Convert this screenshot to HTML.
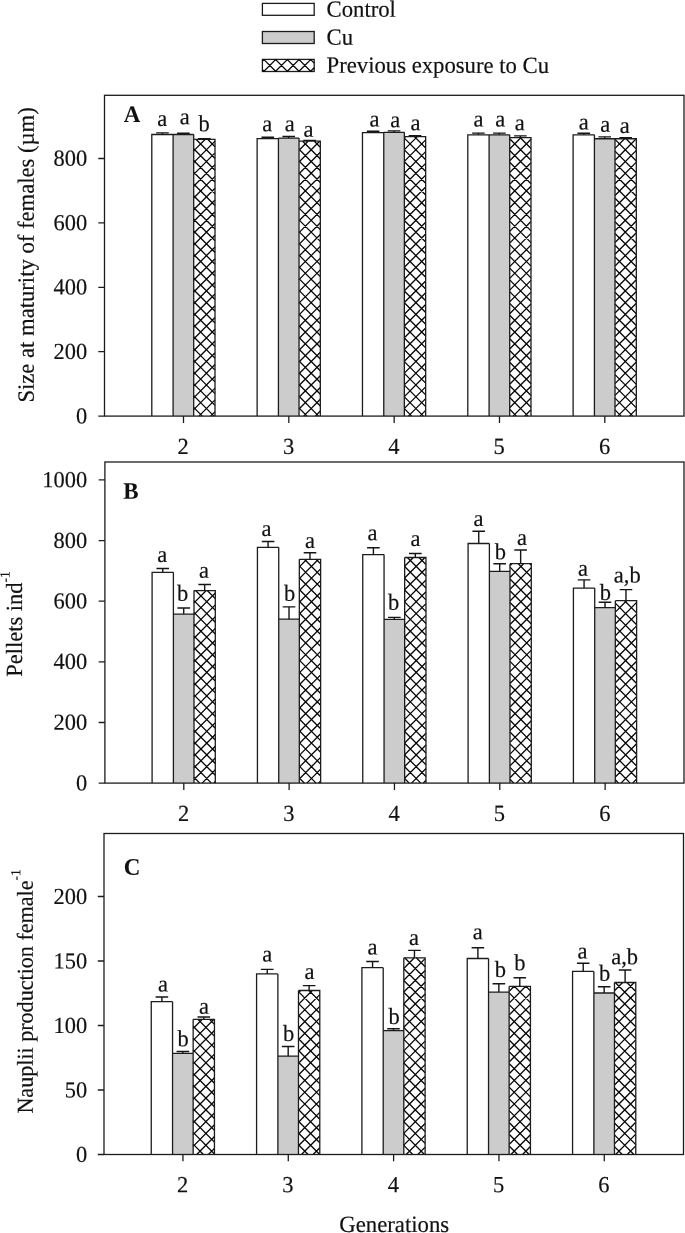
<!DOCTYPE html>
<html><head><meta charset="utf-8"><title>Figure</title>
<style>
html,body{margin:0;padding:0;background:#fff;}
body{width:685px;height:1233px;overflow:hidden;font-family:"Liberation Serif",serif;}
svg{display:block;will-change:transform;}
text{font-family:"Liberation Serif",serif;font-size:22.5px;fill:#111;stroke:#111;stroke-width:0.18px;}
.ax{stroke:#1c1c1c;stroke-width:1.3;fill:none;}
.bar{stroke:#1c1c1c;stroke-width:1.3;}
.ht{stroke:#050505;stroke-width:1.3;fill:none;}
.eb{stroke:#151515;stroke-width:1.4;fill:none;}
.b{font-weight:bold;font-size:23px;stroke-width:0.05px;}
.sup{font-size:13.4px;}
</style></head><body>
<svg width="685" height="1233" viewBox="0 0 685 1233">
<rect x="0" y="0" width="685" height="1233" fill="#fff"/>
<rect class="bar" x="262.4" y="3.4" width="51.8" height="11.9" fill="#fff"/>
<text transform="translate(326.6 16.8) rotate(0.03) scale(1 1.03)" style="font-size:22.7px">Control</text>
<rect class="bar" x="262.4" y="31.5" width="51.8" height="12" fill="#cccccc"/>
<text transform="translate(326.6 44.8) rotate(0.03) scale(1 1.03)" style="font-size:22.7px">Cu</text>
<rect class="bar" x="262.4" y="59.4" width="51.8" height="12.1" fill="#fff"/>
<path class="ht" d="M262.4 69.73L264.17 71.5M262.4 61.17L264.17 59.4M263.75 59.4L275.85 71.5M263.75 71.5L275.85 59.4M275.43 59.4L287.53 71.5M275.43 71.5L287.53 59.4M287.11 59.4L299.21 71.5M287.11 71.5L299.21 59.4M298.79 59.4L310.89 71.5M298.79 71.5L310.89 59.4M310.47 59.4L314.2 63.13M310.47 71.5L314.2 67.77"/>
<text transform="translate(326.6 72.8) rotate(0.03) scale(1 1.03)" style="font-size:22.7px">Previous exposure to Cu</text>
<rect x="173.1" y="134.5" width="20.6" height="281.6" fill="#cccccc"/>
<rect x="193.7" y="139.45" width="21.3" height="276.65" fill="#fff"/>
<path class="ht" d="M193.7 407.39L202.32 416.1M193.7 395.63L213.96 416.1M193.7 383.87L215 405.39M193.7 372.11L215 393.63M193.7 360.35L215 381.87M193.7 348.59L215 370.11M193.7 336.83L215 358.35M193.7 325.07L215 346.59M193.7 313.31L215 334.83M193.7 301.55L215 323.07M193.7 289.79L215 311.31M193.7 278.03L215 299.55M193.7 266.27L215 287.79M193.7 254.51L215 276.03M193.7 242.75L215 264.27M193.7 230.99L215 252.51M193.7 219.23L215 240.75M193.7 207.47L215 228.99M193.7 195.71L215 217.23M193.7 183.95L215 205.47M193.7 172.19L215 193.71M193.7 160.43L215 181.95M193.7 148.67L215 170.19M196.22 139.45L215 158.43M207.85 139.45L215 146.67M193.7 150.89L205.02 139.45M193.7 162.65L215 141.13M193.7 174.41L215 152.89M193.7 186.17L215 164.65M193.7 197.93L215 176.41M193.7 209.69L215 188.17M193.7 221.45L215 199.93M193.7 233.21L215 211.69M193.7 244.97L215 223.45M193.7 256.73L215 235.21M193.7 268.49L215 246.97M193.7 280.25L215 258.73M193.7 292.01L215 270.49M193.7 303.77L215 282.25M193.7 315.53L215 294.01M193.7 327.29L215 305.77M193.7 339.05L215 317.53M193.7 350.81L215 329.29M193.7 362.57L215 341.05M193.7 374.33L215 352.81M193.7 386.09L215 364.57M193.7 397.85L215 376.33M193.7 409.61L215 388.09M198.92 416.1L215 399.85M210.55 416.1L215 411.61"/>
<path class="ax" d="M151.8 416.1V134.5H173.1M173.1 416.1V134.5M173.1 134.5H193.7M193.7 416.1V134.5M193.7 139.45H215V416.1"/>
<path class="eb" d="M162.45 134.5V132.9M156.15 132.9H168.75"/>
<text transform="translate(162.2 126) rotate(0.03) scale(1 1.03)" text-anchor="middle">a</text>
<path class="eb" d="M183.4 134.5V133.3M177.1 133.3H189.7"/>
<text transform="translate(184.7 124.3) rotate(0.03) scale(1 1.03)" text-anchor="middle">a</text>
<path class="eb" d="M204.35 139.45V138.65M198.05 138.65H210.65"/>
<text transform="translate(204.2 131.3) rotate(0.03) scale(1 1.03)" text-anchor="middle">b</text>
<rect x="278.43" y="138.1" width="20.6" height="278" fill="#cccccc"/>
<rect x="299.03" y="141.2" width="21.3" height="274.9" fill="#fff"/>
<path class="ht" d="M299.03 408.01L307.04 416.1M299.03 396.25L318.67 416.1M299.03 384.49L320.33 406.02M299.03 372.73L320.33 394.26M299.03 360.97L320.33 382.5M299.03 349.21L320.33 370.74M299.03 337.45L320.33 358.98M299.03 325.69L320.33 347.22M299.03 313.93L320.33 335.46M299.03 302.17L320.33 323.7M299.03 290.41L320.33 311.94M299.03 278.65L320.33 300.18M299.03 266.89L320.33 288.42M299.03 255.13L320.33 276.66M299.03 243.37L320.33 264.9M299.03 231.61L320.33 253.14M299.03 219.85L320.33 241.38M299.03 208.09L320.33 229.62M299.03 196.33L320.33 217.86M299.03 184.57L320.33 206.1M299.03 172.81L320.33 194.34M299.03 161.05L320.33 182.58M299.03 149.29L320.33 170.82M302.66 141.2L320.33 159.06M314.3 141.2L320.33 147.3M299.03 150.27L308.01 141.2M299.03 162.03L319.64 141.2M299.03 173.79L320.33 152.26M299.03 185.55L320.33 164.02M299.03 197.31L320.33 175.78M299.03 209.07L320.33 187.54M299.03 220.83L320.33 199.3M299.03 232.59L320.33 211.06M299.03 244.35L320.33 222.82M299.03 256.11L320.33 234.58M299.03 267.87L320.33 246.34M299.03 279.63L320.33 258.1M299.03 291.39L320.33 269.86M299.03 303.15L320.33 281.62M299.03 314.91L320.33 293.38M299.03 326.67L320.33 305.14M299.03 338.43L320.33 316.9M299.03 350.19L320.33 328.66M299.03 361.95L320.33 340.42M299.03 373.71L320.33 352.18M299.03 385.47L320.33 363.94M299.03 397.23L320.33 375.7M299.03 408.99L320.33 387.46M303.63 416.1L320.33 399.22M315.27 416.1L320.33 410.98"/>
<path class="ax" d="M257.13 416.1V138.55H278.43M278.43 416.1V138.1M278.43 138.1H299.03M299.03 416.1V138.1M299.03 141.2H320.33V416.1"/>
<path class="eb" d="M267.78 138.55V137.25M261.48 137.25H274.08"/>
<text transform="translate(267.3 131.3) rotate(0.03) scale(1 1.03)" text-anchor="middle">a</text>
<path class="eb" d="M288.73 138.1V136.5M282.43 136.5H295.03"/>
<text transform="translate(289.7 131.3) rotate(0.03) scale(1 1.03)" text-anchor="middle">a</text>
<path class="eb" d="M309.68 141.2V140.4M303.38 140.4H315.98"/>
<text transform="translate(308.6 136.8) rotate(0.03) scale(1 1.03)" text-anchor="middle">a</text>
<rect x="383.76" y="132.3" width="20.6" height="283.8" fill="#cccccc"/>
<rect x="404.36" y="136.6" width="21.3" height="279.5" fill="#fff"/>
<path class="ht" d="M404.36 408.63L411.75 416.1M404.36 396.87L423.39 416.1M404.36 385.11L425.66 406.64M404.36 373.35L425.66 394.88M404.36 361.59L425.66 383.12M404.36 349.83L425.66 371.36M404.36 338.07L425.66 359.6M404.36 326.31L425.66 347.84M404.36 314.55L425.66 336.08M404.36 302.79L425.66 324.32M404.36 291.03L425.66 312.56M404.36 279.27L425.66 300.8M404.36 267.51L425.66 289.04M404.36 255.75L425.66 277.28M404.36 243.99L425.66 265.52M404.36 232.23L425.66 253.76M404.36 220.47L425.66 242M404.36 208.71L425.66 230.24M404.36 196.95L425.66 218.48M404.36 185.19L425.66 206.72M404.36 173.43L425.66 194.96M404.36 161.67L425.66 183.2M404.36 149.91L425.66 171.44M404.36 138.15L425.66 159.68M414.46 136.6L425.66 147.92M404.36 137.89L405.64 136.6M404.36 149.65L417.27 136.6M404.36 161.41L425.66 139.88M404.36 173.17L425.66 151.64M404.36 184.93L425.66 163.4M404.36 196.69L425.66 175.16M404.36 208.45L425.66 186.92M404.36 220.21L425.66 198.68M404.36 231.97L425.66 210.44M404.36 243.73L425.66 222.2M404.36 255.49L425.66 233.96M404.36 267.25L425.66 245.72M404.36 279.01L425.66 257.48M404.36 290.77L425.66 269.24M404.36 302.53L425.66 281M404.36 314.29L425.66 292.76M404.36 326.05L425.66 304.52M404.36 337.81L425.66 316.28M404.36 349.57L425.66 328.04M404.36 361.33L425.66 339.8M404.36 373.09L425.66 351.56M404.36 384.85L425.66 363.32M404.36 396.61L425.66 375.08M404.36 408.37L425.66 386.84M408.35 416.1L425.66 398.6M419.98 416.1L425.66 410.36"/>
<path class="ax" d="M362.46 416.1V132.65H383.76M383.76 416.1V132.3M383.76 132.3H404.36M404.36 416.1V132.3M404.36 136.6H425.66V416.1"/>
<path class="eb" d="M373.11 132.65V131.25M366.81 131.25H379.41"/>
<text transform="translate(374.6 126.5) rotate(0.03) scale(1 1.03)" text-anchor="middle">a</text>
<path class="eb" d="M394.06 132.3V130.9M387.76 130.9H400.36"/>
<text transform="translate(395.3 127.2) rotate(0.03) scale(1 1.03)" text-anchor="middle">a</text>
<path class="eb" d="M415.01 136.6V135.7M408.71 135.7H421.31"/>
<text transform="translate(415.5 130.3) rotate(0.03) scale(1 1.03)" text-anchor="middle">a</text>
<rect x="489.09" y="134.85" width="20.6" height="281.25" fill="#cccccc"/>
<rect x="509.69" y="137.55" width="21.3" height="278.55" fill="#fff"/>
<path class="ht" d="M509.69 409.25L516.47 416.1M509.69 397.49L528.1 416.1M509.69 385.73L530.99 407.26M509.69 373.97L530.99 395.5M509.69 362.21L530.99 383.74M509.69 350.45L530.99 371.98M509.69 338.69L530.99 360.22M509.69 326.93L530.99 348.46M509.69 315.17L530.99 336.7M509.69 303.41L530.99 324.94M509.69 291.65L530.99 313.18M509.69 279.89L530.99 301.42M509.69 268.13L530.99 289.66M509.69 256.37L530.99 277.9M509.69 244.61L530.99 266.14M509.69 232.85L530.99 254.38M509.69 221.09L530.99 242.62M509.69 209.33L530.99 230.86M509.69 197.57L530.99 219.1M509.69 185.81L530.99 207.34M509.69 174.05L530.99 195.58M509.69 162.29L530.99 183.82M509.69 150.53L530.99 172.06M509.69 138.77L530.99 160.3M520.12 137.55L530.99 148.54M509.69 149.03L521.05 137.55M509.69 160.79L530.99 139.26M509.69 172.55L530.99 151.02M509.69 184.31L530.99 162.78M509.69 196.07L530.99 174.54M509.69 207.83L530.99 186.3M509.69 219.59L530.99 198.06M509.69 231.35L530.99 209.82M509.69 243.11L530.99 221.58M509.69 254.87L530.99 233.34M509.69 266.63L530.99 245.1M509.69 278.39L530.99 256.86M509.69 290.15L530.99 268.62M509.69 301.91L530.99 280.38M509.69 313.67L530.99 292.14M509.69 325.43L530.99 303.9M509.69 337.19L530.99 315.66M509.69 348.95L530.99 327.42M509.69 360.71L530.99 339.18M509.69 372.47L530.99 350.94M509.69 384.23L530.99 362.7M509.69 395.99L530.99 374.46M509.69 407.75L530.99 386.22M513.06 416.1L530.99 397.98M524.7 416.1L530.99 409.74"/>
<path class="ax" d="M467.79 416.1V134.85H489.09M489.09 416.1V134.85M489.09 134.85H509.69M509.69 416.1V134.85M509.69 137.55H530.99V416.1"/>
<path class="eb" d="M478.44 134.85V133.1M472.14 133.1H484.74"/>
<text transform="translate(478.5 126.6) rotate(0.03) scale(1 1.03)" text-anchor="middle">a</text>
<path class="eb" d="M499.39 134.85V133.1M493.09 133.1H505.69"/>
<text transform="translate(500.3 126.6) rotate(0.03) scale(1 1.03)" text-anchor="middle">a</text>
<path class="eb" d="M520.34 137.55V135.9M514.04 135.9H526.64"/>
<text transform="translate(519.8 130.3) rotate(0.03) scale(1 1.03)" text-anchor="middle">a</text>
<rect x="594.42" y="138.75" width="20.6" height="277.35" fill="#cccccc"/>
<rect x="615.02" y="138.75" width="21.3" height="277.35" fill="#fff"/>
<path class="ht" d="M615.02 409.87L621.18 416.1M615.02 398.11L632.82 416.1M615.02 386.35L636.32 407.88M615.02 374.59L636.32 396.12M615.02 362.83L636.32 384.36M615.02 351.07L636.32 372.6M615.02 339.31L636.32 360.84M615.02 327.55L636.32 349.08M615.02 315.79L636.32 337.32M615.02 304.03L636.32 325.56M615.02 292.27L636.32 313.8M615.02 280.51L636.32 302.04M615.02 268.75L636.32 290.28M615.02 256.99L636.32 278.52M615.02 245.23L636.32 266.76M615.02 233.47L636.32 255M615.02 221.71L636.32 243.24M615.02 209.95L636.32 231.48M615.02 198.19L636.32 219.72M615.02 186.43L636.32 207.96M615.02 174.67L636.32 196.2M615.02 162.91L636.32 184.44M615.02 151.15L636.32 172.68M615.02 139.39L636.32 160.92M626.02 138.75L636.32 149.16M615.02 148.41L624.58 138.75M615.02 160.17L636.21 138.75M615.02 171.93L636.32 150.4M615.02 183.69L636.32 162.16M615.02 195.45L636.32 173.92M615.02 207.21L636.32 185.68M615.02 218.97L636.32 197.44M615.02 230.73L636.32 209.2M615.02 242.49L636.32 220.96M615.02 254.25L636.32 232.72M615.02 266.01L636.32 244.48M615.02 277.77L636.32 256.24M615.02 289.53L636.32 268M615.02 301.29L636.32 279.76M615.02 313.05L636.32 291.52M615.02 324.81L636.32 303.28M615.02 336.57L636.32 315.04M615.02 348.33L636.32 326.8M615.02 360.09L636.32 338.56M615.02 371.85L636.32 350.32M615.02 383.61L636.32 362.08M615.02 395.37L636.32 373.84M615.02 407.13L636.32 385.6M617.78 416.1L636.32 397.36M629.41 416.1L636.32 409.12"/>
<path class="ax" d="M573.12 416.1V134.8H594.42M594.42 416.1V134.8M594.42 138.75H615.02M615.02 416.1V138.75M615.02 138.75H636.32V416.1"/>
<path class="eb" d="M583.77 134.8V133.3M577.47 133.3H590.07"/>
<text transform="translate(583.7 129.4) rotate(0.03) scale(1 1.03)" text-anchor="middle">a</text>
<path class="eb" d="M604.72 138.75V136.85M598.42 136.85H611.02"/>
<text transform="translate(605.3 131.7) rotate(0.03) scale(1 1.03)" text-anchor="middle">a</text>
<path class="eb" d="M625.67 138.75V137.7M619.37 137.7H631.97"/>
<text transform="translate(624.8 133) rotate(0.03) scale(1 1.03)" text-anchor="middle">a</text>
<rect class="ax" x="104.5" y="95.3" width="579.5" height="320.8"/>
<text transform="translate(87.1 423.4) rotate(0.03) scale(1 1.03)" text-anchor="end" style="font-size:22.4px">0</text>
<text transform="translate(87.1 359) rotate(0.03) scale(1 1.03)" text-anchor="end" style="font-size:22.4px">200</text>
<text transform="translate(87.1 294.6) rotate(0.03) scale(1 1.03)" text-anchor="end" style="font-size:22.4px">400</text>
<text transform="translate(87.1 230.2) rotate(0.03) scale(1 1.03)" text-anchor="end" style="font-size:22.4px">600</text>
<text transform="translate(87.1 165.8) rotate(0.03) scale(1 1.03)" text-anchor="end" style="font-size:22.4px">800</text>
<text transform="translate(183.2 453.9) rotate(0.03) scale(1 1.03)" text-anchor="middle">2</text>
<text transform="translate(288.53 453.9) rotate(0.03) scale(1 1.03)" text-anchor="middle">3</text>
<text transform="translate(393.86 453.9) rotate(0.03) scale(1 1.03)" text-anchor="middle">4</text>
<text transform="translate(499.19 453.9) rotate(0.03) scale(1 1.03)" text-anchor="middle">5</text>
<text transform="translate(604.52 453.9) rotate(0.03) scale(1 1.03)" text-anchor="middle">6</text>
<path class="ax" d="M98.3 416.1L104.5 416.1M98.3 351.7L104.5 351.7M98.3 287.3L104.5 287.3M98.3 222.9L104.5 222.9M98.3 158.5L104.5 158.5M183.5 416.1L183.5 422.9M288.83 416.1L288.83 422.9M394.16 416.1L394.16 422.9M499.49 416.1L499.49 422.9M604.82 416.1L604.82 422.9"/>
<text transform="translate(123.8 122.1) rotate(0.03) scale(1 1.03)" class="b">A</text>
<text transform="translate(33.7 402.6) rotate(-89.97) scale(1 1.03)" style="font-size:22.65px">Size at maturity of females (µm)</text>
<rect x="173.4" y="614.1" width="20.6" height="169" fill="#cccccc"/>
<rect x="194" y="590.7" width="21.3" height="192.4" fill="#fff"/>
<path class="ht" d="M194 777.31L199.72 783.1M194 765.53L211.35 783.1M194 753.75L215.3 775.32M194 741.97L215.3 763.54M194 730.19L215.3 751.76M194 718.41L215.3 739.98M194 706.63L215.3 728.2M194 694.85L215.3 716.42M194 683.07L215.3 704.64M194 671.29L215.3 692.86M194 659.51L215.3 681.08M194 647.73L215.3 669.3M194 635.95L215.3 657.52M194 624.17L215.3 645.74M194 612.39L215.3 633.96M194 600.61L215.3 622.18M195.84 590.7L215.3 610.4M207.48 590.7L215.3 598.62M194 591.07L194.36 590.7M194 602.85L206 590.7M194 614.63L215.3 593.06M194 626.41L215.3 604.84M194 638.19L215.3 616.62M194 649.97L215.3 628.4M194 661.75L215.3 640.18M194 673.53L215.3 651.96M194 685.31L215.3 663.74M194 697.09L215.3 675.52M194 708.87L215.3 687.3M194 720.65L215.3 699.08M194 732.43L215.3 710.86M194 744.21L215.3 722.64M194 755.99L215.3 734.42M194 767.77L215.3 746.2M194 779.55L215.3 757.98M202.12 783.1L215.3 769.76M213.76 783.1L215.3 781.54"/>
<path class="ax" d="M152.1 783.1V572.3H173.4M173.4 783.1V572.3M173.4 614.1H194M194 783.1V590.7M194 590.7H215.3V783.1"/>
<path class="eb" d="M162.75 572.3V568.5M156.45 568.5H169.05"/>
<text transform="translate(162.3 562.1) rotate(0.03) scale(1 1.03)" text-anchor="middle">a</text>
<path class="eb" d="M183.7 614.1V608M177.4 608H190"/>
<text transform="translate(182.6 600.7) rotate(0.03) scale(1 1.03)" text-anchor="middle">b</text>
<path class="eb" d="M204.65 590.7V584.5M198.35 584.5H210.95"/>
<text transform="translate(204 577.7) rotate(0.03) scale(1 1.03)" text-anchor="middle">a</text>
<rect x="278.73" y="619.2" width="20.6" height="163.9" fill="#cccccc"/>
<rect x="299.33" y="559.3" width="21.3" height="223.8" fill="#fff"/>
<path class="ht" d="M299.33 777.94L304.43 783.1M299.33 766.16L316.07 783.1M299.33 754.38L320.63 775.94M299.33 742.6L320.63 764.16M299.33 730.82L320.63 752.38M299.33 719.04L320.63 740.6M299.33 707.26L320.63 728.82M299.33 695.48L320.63 717.04M299.33 683.7L320.63 705.26M299.33 671.92L320.63 693.48M299.33 660.14L320.63 681.7M299.33 648.36L320.63 669.92M299.33 636.58L320.63 658.14M299.33 624.8L320.63 646.36M299.33 613.02L320.63 634.58M299.33 601.24L320.63 622.8M299.33 589.46L320.63 611.02M299.33 577.68L320.63 599.24M299.33 565.9L320.63 587.46M304.45 559.3L320.63 575.68M316.08 559.3L320.63 563.9M299.33 566.88L306.82 559.3M299.33 578.66L318.46 559.3M299.33 590.44L320.63 568.88M299.33 602.22L320.63 580.66M299.33 614L320.63 592.44M299.33 625.78L320.63 604.22M299.33 637.56L320.63 616M299.33 649.34L320.63 627.78M299.33 661.12L320.63 639.56M299.33 672.9L320.63 651.34M299.33 684.68L320.63 663.12M299.33 696.46L320.63 674.9M299.33 708.24L320.63 686.68M299.33 720.02L320.63 698.46M299.33 731.8L320.63 710.24M299.33 743.58L320.63 722.02M299.33 755.36L320.63 733.8M299.33 767.14L320.63 745.58M299.33 778.92L320.63 757.36M306.84 783.1L320.63 769.14M318.47 783.1L320.63 780.92"/>
<path class="ax" d="M257.43 783.1V547.3H278.73M278.73 783.1V547.3M278.73 619.2H299.33M299.33 783.1V559.3M299.33 559.3H320.63V783.1"/>
<path class="eb" d="M268.08 547.3V541.5M261.78 541.5H274.38"/>
<text transform="translate(266.4 536) rotate(0.03) scale(1 1.03)" text-anchor="middle">a</text>
<path class="eb" d="M289.03 619.2V606.9M282.73 606.9H295.33"/>
<text transform="translate(289.7 600.7) rotate(0.03) scale(1 1.03)" text-anchor="middle">b</text>
<path class="eb" d="M309.98 559.3V552.8M303.68 552.8H316.28"/>
<text transform="translate(309.9 548.1) rotate(0.03) scale(1 1.03)" text-anchor="middle">a</text>
<rect x="384.06" y="619.4" width="20.6" height="163.7" fill="#cccccc"/>
<rect x="404.66" y="557.5" width="21.3" height="225.6" fill="#fff"/>
<path class="ht" d="M404.66 778.56L409.15 783.1M404.66 766.78L420.78 783.1M404.66 755L425.96 776.56M404.66 743.22L425.96 764.78M404.66 731.44L425.96 753M404.66 719.66L425.96 741.22M404.66 707.88L425.96 729.44M404.66 696.1L425.96 717.66M404.66 684.32L425.96 705.88M404.66 672.54L425.96 694.1M404.66 660.76L425.96 682.32M404.66 648.98L425.96 670.54M404.66 637.2L425.96 658.76M404.66 625.42L425.96 646.98M404.66 613.64L425.96 635.2M404.66 601.86L425.96 623.42M404.66 590.08L425.96 611.64M404.66 578.3L425.96 599.86M404.66 566.52L425.96 588.08M407.39 557.5L425.96 576.3M419.02 557.5L425.96 564.52M404.66 566.26L413.31 557.5M404.66 578.04L424.95 557.5M404.66 589.82L425.96 568.26M404.66 601.6L425.96 580.04M404.66 613.38L425.96 591.82M404.66 625.16L425.96 603.6M404.66 636.94L425.96 615.38M404.66 648.72L425.96 627.16M404.66 660.5L425.96 638.94M404.66 672.28L425.96 650.72M404.66 684.06L425.96 662.5M404.66 695.84L425.96 674.28M404.66 707.62L425.96 686.06M404.66 719.4L425.96 697.84M404.66 731.18L425.96 709.62M404.66 742.96L425.96 721.4M404.66 754.74L425.96 733.18M404.66 766.52L425.96 744.96M404.66 778.3L425.96 756.74M411.55 783.1L425.96 768.52M423.19 783.1L425.96 780.3"/>
<path class="ax" d="M362.76 783.1V554.6H384.06M384.06 783.1V554.6M384.06 619.4H404.66M404.66 783.1V557.5M404.66 557.5H425.96V783.1"/>
<path class="eb" d="M373.41 554.6V547.7M367.11 547.7H379.71"/>
<text transform="translate(372.5 540.3) rotate(0.03) scale(1 1.03)" text-anchor="middle">a</text>
<path class="eb" d="M394.36 619.4V617.4M388.06 617.4H400.66"/>
<text transform="translate(393.6 609.8) rotate(0.03) scale(1 1.03)" text-anchor="middle">b</text>
<path class="eb" d="M415.31 557.5V553.5M409.01 553.5H421.61"/>
<text transform="translate(415.5 546.1) rotate(0.03) scale(1 1.03)" text-anchor="middle">a</text>
<rect x="489.39" y="571.3" width="20.6" height="211.8" fill="#cccccc"/>
<rect x="509.99" y="563.7" width="21.3" height="219.4" fill="#fff"/>
<path class="ht" d="M509.99 779.18L513.86 783.1M509.99 767.4L525.5 783.1M509.99 755.62L531.29 777.19M509.99 743.84L531.29 765.41M509.99 732.06L531.29 753.63M509.99 720.28L531.29 741.85M509.99 708.5L531.29 730.07M509.99 696.72L531.29 718.29M509.99 684.94L531.29 706.51M509.99 673.16L531.29 694.73M509.99 661.38L531.29 682.95M509.99 649.6L531.29 671.17M509.99 637.82L531.29 659.39M509.99 626.04L531.29 647.61M509.99 614.26L531.29 635.83M509.99 602.48L531.29 624.05M509.99 590.7L531.29 612.27M509.99 578.92L531.29 600.49M509.99 567.14L531.29 588.71M518.23 563.7L531.29 576.93M529.86 563.7L531.29 565.15M509.99 565.64L511.9 563.7M509.99 577.42L523.54 563.7M509.99 589.2L531.29 567.63M509.99 600.98L531.29 579.41M509.99 612.76L531.29 591.19M509.99 624.54L531.29 602.97M509.99 636.32L531.29 614.75M509.99 648.1L531.29 626.53M509.99 659.88L531.29 638.31M509.99 671.66L531.29 650.09M509.99 683.44L531.29 661.87M509.99 695.22L531.29 673.65M509.99 707L531.29 685.43M509.99 718.78L531.29 697.21M509.99 730.56L531.29 708.99M509.99 742.34L531.29 720.77M509.99 754.12L531.29 732.55M509.99 765.9L531.29 744.33M509.99 777.68L531.29 756.11M516.27 783.1L531.29 767.89M527.9 783.1L531.29 779.67"/>
<path class="ax" d="M468.09 783.1V543.5H489.39M489.39 783.1V543.5M489.39 571.3H509.99M509.99 783.1V563.7M509.99 563.7H531.29V783.1"/>
<path class="eb" d="M478.74 543.5V531.2M472.44 531.2H485.04"/>
<text transform="translate(478.5 525.9) rotate(0.03) scale(1 1.03)" text-anchor="middle">a</text>
<path class="eb" d="M499.69 571.3V563.7M493.39 563.7H505.99"/>
<text transform="translate(500.3 559.3) rotate(0.03) scale(1 1.03)" text-anchor="middle">b</text>
<path class="eb" d="M520.64 563.7V550M514.34 550H526.94"/>
<text transform="translate(521.9 545) rotate(0.03) scale(1 1.03)" text-anchor="middle">a</text>
<rect x="594.72" y="607.7" width="20.6" height="175.4" fill="#cccccc"/>
<rect x="615.32" y="600.7" width="21.3" height="182.4" fill="#fff"/>
<path class="ht" d="M615.32 779.8L618.58 783.1M615.32 768.02L630.21 783.1M615.32 756.24L636.62 777.81M615.32 744.46L636.62 766.03M615.32 732.68L636.62 754.25M615.32 720.9L636.62 742.47M615.32 709.12L636.62 730.69M615.32 697.34L636.62 718.91M615.32 685.56L636.62 707.13M615.32 673.78L636.62 695.35M615.32 662L636.62 683.57M615.32 650.22L636.62 671.79M615.32 638.44L636.62 660.01M615.32 626.66L636.62 648.23M615.32 614.88L636.62 636.45M615.32 603.1L636.62 624.67M624.58 600.7L636.62 612.89M636.22 600.7L636.62 601.11M615.32 612.14L626.61 600.7M615.32 623.92L636.62 602.35M615.32 635.7L636.62 614.13M615.32 647.48L636.62 625.91M615.32 659.26L636.62 637.69M615.32 671.04L636.62 649.47M615.32 682.82L636.62 661.25M615.32 694.6L636.62 673.03M615.32 706.38L636.62 684.81M615.32 718.16L636.62 696.59M615.32 729.94L636.62 708.37M615.32 741.72L636.62 720.15M615.32 753.5L636.62 731.93M615.32 765.28L636.62 743.71M615.32 777.06L636.62 755.49M620.98 783.1L636.62 767.27M632.62 783.1L636.62 779.05"/>
<path class="ax" d="M573.42 783.1V588.1H594.72M594.72 783.1V588.1M594.72 607.7H615.32M615.32 783.1V600.7M615.32 600.7H636.62V783.1"/>
<path class="eb" d="M584.07 588.1V579.9M577.77 579.9H590.37"/>
<text transform="translate(583.1 575.8) rotate(0.03) scale(1 1.03)" text-anchor="middle">a</text>
<path class="eb" d="M605.02 607.7V602.2M598.72 602.2H611.32"/>
<text transform="translate(605.3 599.9) rotate(0.03) scale(1 1.03)" text-anchor="middle">b</text>
<path class="eb" d="M625.97 600.7V589.6M619.67 589.6H632.27"/>
<text transform="translate(627.2 582.6) rotate(0.03) scale(1 1.03)" text-anchor="middle">a,b</text>
<rect class="ax" x="104.9" y="462" width="579.1" height="321.1"/>
<text transform="translate(87.1 790.4) rotate(0.03) scale(1 1.03)" text-anchor="end" style="font-size:22.4px">0</text>
<text transform="translate(87.1 729.8) rotate(0.03) scale(1 1.03)" text-anchor="end" style="font-size:22.4px">200</text>
<text transform="translate(87.1 669.1) rotate(0.03) scale(1 1.03)" text-anchor="end" style="font-size:22.4px">400</text>
<text transform="translate(87.1 608.5) rotate(0.03) scale(1 1.03)" text-anchor="end" style="font-size:22.4px">600</text>
<text transform="translate(87.1 547.9) rotate(0.03) scale(1 1.03)" text-anchor="end" style="font-size:22.4px">800</text>
<text transform="translate(87.1 487.25) rotate(0.03) scale(1 1.03)" text-anchor="end" style="font-size:22.4px">1000</text>
<text transform="translate(183.5 820.9) rotate(0.03) scale(1 1.03)" text-anchor="middle">2</text>
<text transform="translate(288.83 820.9) rotate(0.03) scale(1 1.03)" text-anchor="middle">3</text>
<text transform="translate(394.16 820.9) rotate(0.03) scale(1 1.03)" text-anchor="middle">4</text>
<text transform="translate(499.49 820.9) rotate(0.03) scale(1 1.03)" text-anchor="middle">5</text>
<text transform="translate(604.82 820.9) rotate(0.03) scale(1 1.03)" text-anchor="middle">6</text>
<path class="ax" d="M98.7 783.1L104.9 783.1M98.7 722.5L104.9 722.5M98.7 661.8L104.9 661.8M98.7 601.2L104.9 601.2M98.7 540.6L104.9 540.6M98.7 479.95L104.9 479.95M183.8 783.1L183.8 789.9M289.13 783.1L289.13 789.9M394.46 783.1L394.46 789.9M499.79 783.1L499.79 789.9M605.12 783.1L605.12 789.9"/>
<text transform="translate(123.3 498.8) rotate(0.03) scale(1 1.03)" class="b">B</text>
<text transform="translate(22 676.8) rotate(-89.97) scale(1 1.03)" style="font-size:22.5px">Pellets ind<tspan class="sup" dy="-12.1">-1</tspan></text>
<rect x="172.55" y="1053.4" width="20.6" height="101.1" fill="#cccccc"/>
<rect x="193.15" y="1019.3" width="21.3" height="135.2" fill="#fff"/>
<path class="ht" d="M193.15 1144.13L203.39 1154.5M193.15 1132.35L214.45 1153.92M193.15 1120.57L214.45 1142.14M193.15 1108.79L214.45 1130.36M193.15 1097.01L214.45 1118.58M193.15 1085.23L214.45 1106.8M193.15 1073.45L214.45 1095.02M193.15 1061.67L214.45 1083.24M193.15 1049.89L214.45 1071.46M193.15 1038.11L214.45 1059.68M193.15 1026.33L214.45 1047.9M197.84 1019.3L214.45 1036.12M209.47 1019.3L214.45 1024.34M193.15 1028.57L202.3 1019.3M193.15 1040.35L213.94 1019.3M193.15 1052.13L214.45 1030.56M193.15 1063.91L214.45 1042.34M193.15 1075.69L214.45 1054.12M193.15 1087.47L214.45 1065.9M193.15 1099.25L214.45 1077.68M193.15 1111.03L214.45 1089.46M193.15 1122.81L214.45 1101.24M193.15 1134.59L214.45 1113.02M193.15 1146.37L214.45 1124.8M196.75 1154.5L214.45 1136.58M208.39 1154.5L214.45 1148.36"/>
<path class="ax" d="M151.25 1154.5V1001.7H172.55M172.55 1154.5V1001.7M172.55 1053.4H193.15M193.15 1154.5V1019.3M193.15 1019.3H214.45V1154.5"/>
<path class="eb" d="M161.9 1001.7V997M155.6 997H168.2"/>
<text transform="translate(162.9 991.5) rotate(0.03) scale(1 1.03)" text-anchor="middle">a</text>
<path class="eb" d="M182.85 1053.4V1051.5M176.55 1051.5H189.15"/>
<text transform="translate(183 1046.2) rotate(0.03) scale(1 1.03)" text-anchor="middle">b</text>
<path class="eb" d="M203.8 1019.3V1017M197.5 1017H210.1"/>
<text transform="translate(204 1013.7) rotate(0.03) scale(1 1.03)" text-anchor="middle">a</text>
<rect x="277.88" y="1056.2" width="20.6" height="98.3" fill="#cccccc"/>
<rect x="298.48" y="990.5" width="21.3" height="164" fill="#fff"/>
<path class="ht" d="M298.48 1144.76L308.1 1154.5M298.48 1132.98L319.74 1154.5M298.48 1121.2L319.78 1142.76M298.48 1109.42L319.78 1130.98M298.48 1097.64L319.78 1119.2M298.48 1085.86L319.78 1107.42M298.48 1074.08L319.78 1095.64M298.48 1062.3L319.78 1083.86M298.48 1050.52L319.78 1072.08M298.48 1038.74L319.78 1060.3M298.48 1026.96L319.78 1048.52M298.48 1015.18L319.78 1036.74M298.48 1003.4L319.78 1024.96M298.48 991.62L319.78 1013.18M309.01 990.5L319.78 1001.4M298.48 992.6L300.56 990.5M298.48 1004.38L312.19 990.5M298.48 1016.16L319.78 994.6M298.48 1027.94L319.78 1006.38M298.48 1039.72L319.78 1018.16M298.48 1051.5L319.78 1029.94M298.48 1063.28L319.78 1041.72M298.48 1075.06L319.78 1053.5M298.48 1086.84L319.78 1065.28M298.48 1098.62L319.78 1077.06M298.48 1110.4L319.78 1088.84M298.48 1122.18L319.78 1100.62M298.48 1133.96L319.78 1112.4M298.48 1145.74L319.78 1124.18M301.47 1154.5L319.78 1135.96M313.1 1154.5L319.78 1147.74"/>
<path class="ax" d="M256.58 1154.5V973.9H277.88M277.88 1154.5V973.9M277.88 1056.2H298.48M298.48 1154.5V990.5M298.48 990.5H319.78V1154.5"/>
<path class="eb" d="M267.23 973.9V969.4M260.93 969.4H273.53"/>
<text transform="translate(267.3 961.4) rotate(0.03) scale(1 1.03)" text-anchor="middle">a</text>
<path class="eb" d="M288.18 1056.2V1046.5M281.88 1046.5H294.48"/>
<text transform="translate(288.5 1041) rotate(0.03) scale(1 1.03)" text-anchor="middle">b</text>
<path class="eb" d="M309.13 990.5V985.6M302.83 985.6H315.43"/>
<text transform="translate(309.6 979.1) rotate(0.03) scale(1 1.03)" text-anchor="middle">a</text>
<rect x="383.21" y="1030.7" width="20.6" height="123.8" fill="#cccccc"/>
<rect x="403.81" y="957.8" width="21.3" height="196.7" fill="#fff"/>
<path class="ht" d="M403.81 1145.38L412.82 1154.5M403.81 1133.6L424.45 1154.5M403.81 1121.82L425.11 1143.38M403.81 1110.04L425.11 1131.6M403.81 1098.26L425.11 1119.82M403.81 1086.48L425.11 1108.04M403.81 1074.7L425.11 1096.26M403.81 1062.92L425.11 1084.48M403.81 1051.14L425.11 1072.7M403.81 1039.36L425.11 1060.92M403.81 1027.58L425.11 1049.14M403.81 1015.8L425.11 1037.36M403.81 1004.02L425.11 1025.58M403.81 992.24L425.11 1013.8M403.81 980.46L425.11 1002.02M403.81 968.68L425.11 990.24M404.7 957.8L425.11 978.46M416.33 957.8L425.11 966.68M403.81 968.42L414.3 957.8M403.81 980.2L425.11 958.64M403.81 991.98L425.11 970.42M403.81 1003.76L425.11 982.2M403.81 1015.54L425.11 993.98M403.81 1027.32L425.11 1005.76M403.81 1039.1L425.11 1017.54M403.81 1050.88L425.11 1029.32M403.81 1062.66L425.11 1041.1M403.81 1074.44L425.11 1052.88M403.81 1086.22L425.11 1064.66M403.81 1098L425.11 1076.44M403.81 1109.78L425.11 1088.22M403.81 1121.56L425.11 1100M403.81 1133.34L425.11 1111.78M403.81 1145.12L425.11 1123.56M406.18 1154.5L425.11 1135.34M417.82 1154.5L425.11 1147.12"/>
<path class="ax" d="M361.91 1154.5V967.7H383.21M383.21 1154.5V967.7M383.21 1030.7H403.81M403.81 1154.5V957.8M403.81 957.8H425.11V1154.5"/>
<path class="eb" d="M372.56 967.7V961.5M366.26 961.5H378.86"/>
<text transform="translate(372.5 954.5) rotate(0.03) scale(1 1.03)" text-anchor="middle">a</text>
<path class="eb" d="M393.51 1030.7V1028.7M387.21 1028.7H399.81"/>
<text transform="translate(394.1 1024) rotate(0.03) scale(1 1.03)" text-anchor="middle">b</text>
<path class="eb" d="M414.46 957.8V950.4M408.16 950.4H420.76"/>
<text transform="translate(414 945) rotate(0.03) scale(1 1.03)" text-anchor="middle">a</text>
<rect x="488.54" y="992.1" width="20.6" height="162.4" fill="#cccccc"/>
<rect x="509.14" y="986.3" width="21.3" height="168.2" fill="#fff"/>
<path class="ht" d="M509.14 1146L517.53 1154.5M509.14 1134.22L529.17 1154.5M509.14 1122.44L530.44 1144.01M509.14 1110.66L530.44 1132.23M509.14 1098.88L530.44 1120.45M509.14 1087.1L530.44 1108.67M509.14 1075.32L530.44 1096.89M509.14 1063.54L530.44 1085.11M509.14 1051.76L530.44 1073.33M509.14 1039.98L530.44 1061.55M509.14 1028.2L530.44 1049.77M509.14 1016.42L530.44 1037.99M509.14 1004.64L530.44 1026.21M509.14 992.86L530.44 1014.43M514.29 986.3L530.44 1002.65M525.93 986.3L530.44 990.87M509.14 991.36L514.14 986.3M509.14 1003.14L525.77 986.3M509.14 1014.92L530.44 993.35M509.14 1026.7L530.44 1005.13M509.14 1038.48L530.44 1016.91M509.14 1050.26L530.44 1028.69M509.14 1062.04L530.44 1040.47M509.14 1073.82L530.44 1052.25M509.14 1085.6L530.44 1064.03M509.14 1097.38L530.44 1075.81M509.14 1109.16L530.44 1087.59M509.14 1120.94L530.44 1099.37M509.14 1132.72L530.44 1111.15M509.14 1144.5L530.44 1122.93M510.9 1154.5L530.44 1134.71M522.53 1154.5L530.44 1146.49"/>
<path class="ax" d="M467.24 1154.5V958.5H488.54M488.54 1154.5V958.5M488.54 992.1H509.14M509.14 1154.5V986.3M509.14 986.3H530.44V1154.5"/>
<path class="eb" d="M477.89 958.5V947.7M471.59 947.7H484.19"/>
<text transform="translate(477.8 939.3) rotate(0.03) scale(1 1.03)" text-anchor="middle">a</text>
<path class="eb" d="M498.84 992.1V983.7M492.54 983.7H505.14"/>
<text transform="translate(500.3 977) rotate(0.03) scale(1 1.03)" text-anchor="middle">b</text>
<path class="eb" d="M519.79 986.3V977.8M513.49 977.8H526.09"/>
<text transform="translate(519.9 970.2) rotate(0.03) scale(1 1.03)" text-anchor="middle">b</text>
<rect x="593.87" y="993" width="20.6" height="161.5" fill="#cccccc"/>
<rect x="614.47" y="982.5" width="21.3" height="172" fill="#fff"/>
<path class="ht" d="M614.47 1146.62L622.25 1154.5M614.47 1134.84L633.88 1154.5M614.47 1123.06L635.77 1144.63M614.47 1111.28L635.77 1132.85M614.47 1099.5L635.77 1121.07M614.47 1087.72L635.77 1109.29M614.47 1075.94L635.77 1097.51M614.47 1064.16L635.77 1085.73M614.47 1052.38L635.77 1073.95M614.47 1040.6L635.77 1062.17M614.47 1028.82L635.77 1050.39M614.47 1017.04L635.77 1038.61M614.47 1005.26L635.77 1026.83M614.47 993.48L635.77 1015.05M615.26 982.5L635.77 1003.27M626.89 982.5L635.77 991.49M614.47 990.74L622.6 982.5M614.47 1002.52L634.24 982.5M614.47 1014.3L635.77 992.73M614.47 1026.08L635.77 1004.51M614.47 1037.86L635.77 1016.29M614.47 1049.64L635.77 1028.07M614.47 1061.42L635.77 1039.85M614.47 1073.2L635.77 1051.63M614.47 1084.98L635.77 1063.41M614.47 1096.76L635.77 1075.19M614.47 1108.54L635.77 1086.97M614.47 1120.32L635.77 1098.75M614.47 1132.1L635.77 1110.53M614.47 1143.88L635.77 1122.31M615.61 1154.5L635.77 1134.09M627.25 1154.5L635.77 1145.87"/>
<path class="ax" d="M572.57 1154.5V971.4H593.87M593.87 1154.5V971.4M593.87 993H614.47M614.47 1154.5V982.5M614.47 982.5H635.77V1154.5"/>
<path class="eb" d="M583.22 971.4V963.2M576.92 963.2H589.52"/>
<text transform="translate(582.5 958.5) rotate(0.03) scale(1 1.03)" text-anchor="middle">a</text>
<path class="eb" d="M604.17 993V986.8M597.87 986.8H610.47"/>
<text transform="translate(604.7 980.7) rotate(0.03) scale(1 1.03)" text-anchor="middle">b</text>
<path class="eb" d="M625.12 982.5V970M618.82 970H631.42"/>
<text transform="translate(624.6 964.2) rotate(0.03) scale(1 1.03)" text-anchor="middle">a,b</text>
<rect class="ax" x="104" y="833.5" width="579.5" height="321"/>
<text transform="translate(87.1 1162.05) rotate(0.03) scale(1 1.03)" text-anchor="end" style="font-size:22.4px">0</text>
<text transform="translate(87.1 1097.55) rotate(0.03) scale(1 1.03)" text-anchor="end" style="font-size:22.4px">50</text>
<text transform="translate(87.1 1033.05) rotate(0.03) scale(1 1.03)" text-anchor="end" style="font-size:22.4px">100</text>
<text transform="translate(87.1 968.55) rotate(0.03) scale(1 1.03)" text-anchor="end" style="font-size:22.4px">150</text>
<text transform="translate(87.1 904.05) rotate(0.03) scale(1 1.03)" text-anchor="end" style="font-size:22.4px">200</text>
<text transform="translate(182.65 1192.3) rotate(0.03) scale(1 1.03)" text-anchor="middle">2</text>
<text transform="translate(287.98 1192.3) rotate(0.03) scale(1 1.03)" text-anchor="middle">3</text>
<text transform="translate(393.31 1192.3) rotate(0.03) scale(1 1.03)" text-anchor="middle">4</text>
<text transform="translate(498.64 1192.3) rotate(0.03) scale(1 1.03)" text-anchor="middle">5</text>
<text transform="translate(603.97 1192.3) rotate(0.03) scale(1 1.03)" text-anchor="middle">6</text>
<path class="ax" d="M97.8 1154.5L104 1154.5M97.8 1090L104 1090M97.8 1025.5L104 1025.5M97.8 961L104 961M97.8 896.5L104 896.5M182.95 1154.5L182.95 1161.3M288.28 1154.5L288.28 1161.3M393.61 1154.5L393.61 1161.3M498.94 1154.5L498.94 1161.3M604.27 1154.5L604.27 1161.3"/>
<text transform="translate(123.7 874.7) rotate(0.03) scale(1 1.03)" class="b">C</text>
<text transform="translate(32.7 1113.6) rotate(-89.97) scale(1 1.03)" style="font-size:22.1px">Nauplii production female<tspan class="sup" dy="-12.1">-1</tspan></text>
<text transform="translate(339.3 1232) rotate(0.03) scale(1 1.03)" style="font-size:22.75px">Generations</text>
</svg></body></html>
